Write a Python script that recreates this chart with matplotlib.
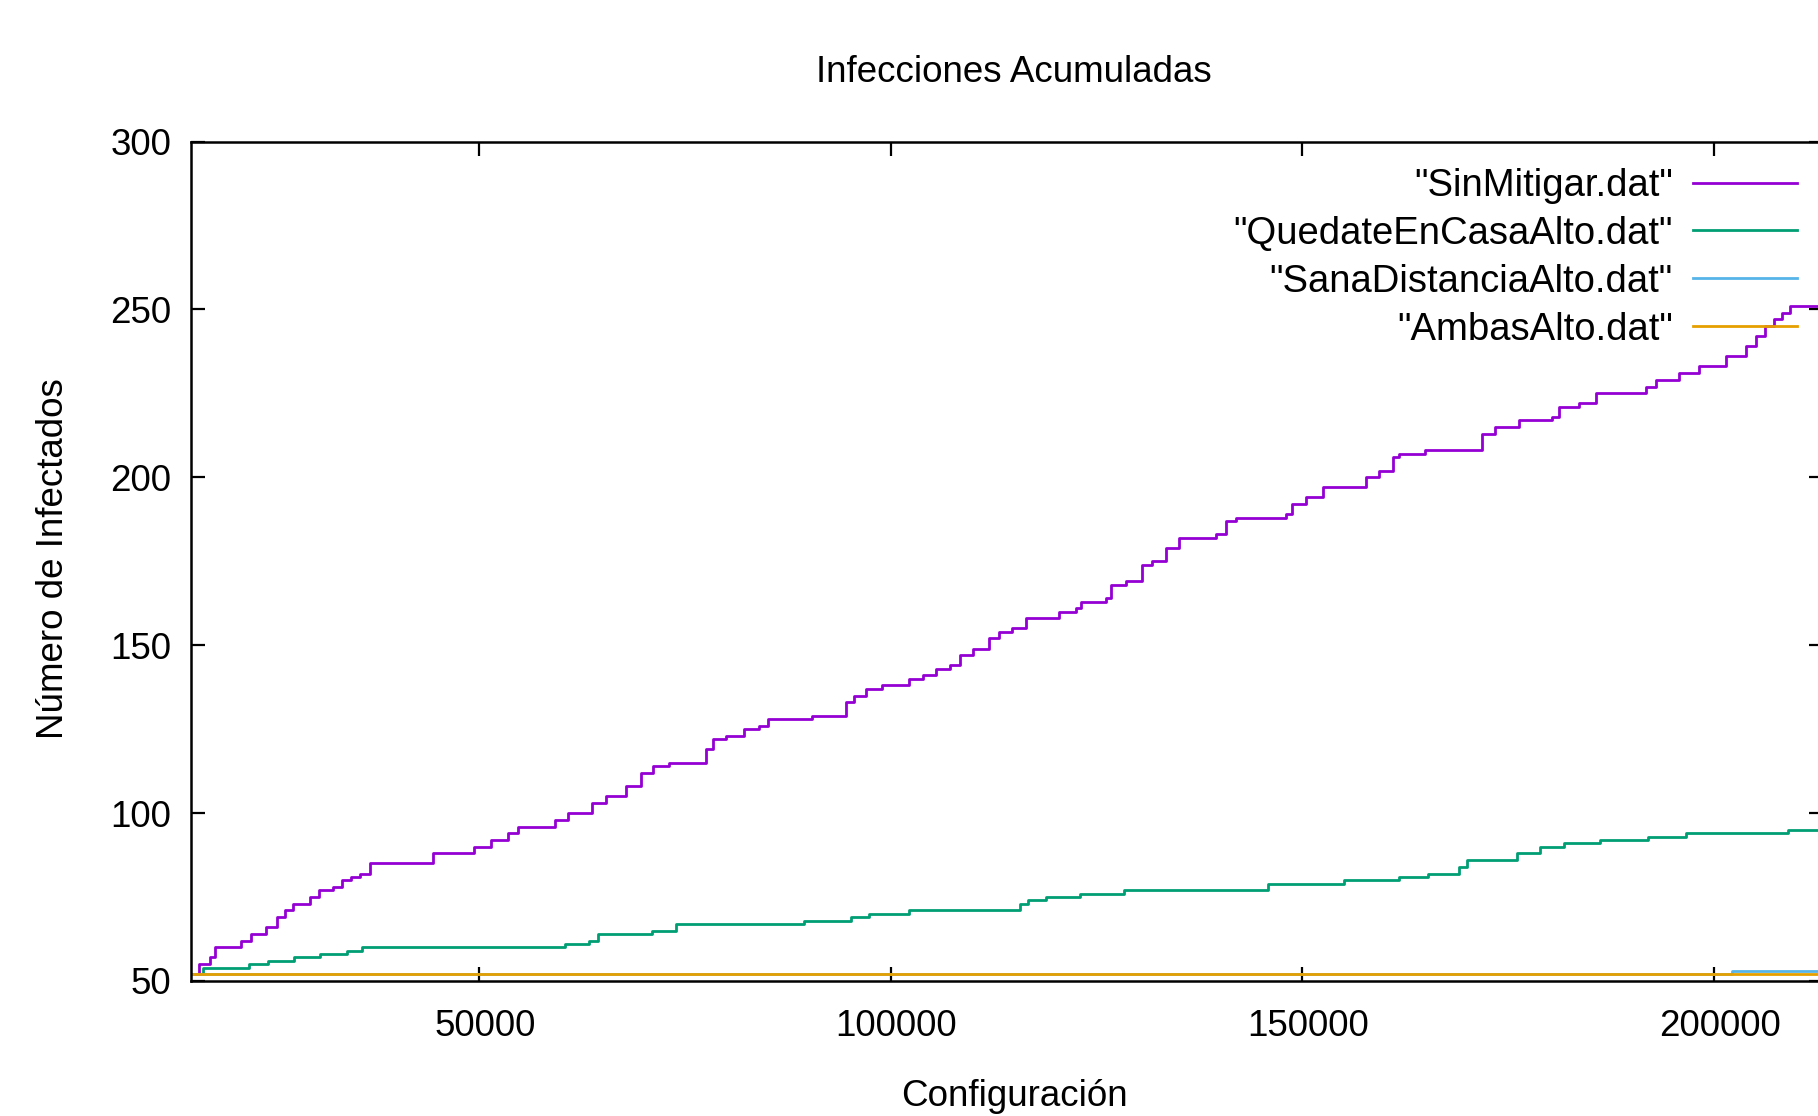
import matplotlib
matplotlib.use("Agg")
import matplotlib.pyplot as plt
import matplotlib.transforms as mtransforms

# =========================
# datos
# =========================
sin_mitigar_x = [15000, 16000, 17300, 17900, 21100, 22300, 24100, 25400, 26400, 27400,
                 29400, 30600, 32200, 33300, 34500, 35500, 36700, 44400, 49400, 51500,
                 53500, 54700, 59200, 60800, 63700, 65400, 67900, 69700, 71100, 73100,
                 77600, 78400, 80000, 82200, 84000, 85100, 90500, 94600, 95600, 97000,
                 99000, 102300, 104000, 105500, 107200, 108400, 110000, 112000, 113200, 114800,
                 116500, 120500, 122500, 123100, 126200, 126800, 128600, 130600, 131800, 133500,
                 135100, 139500, 140700, 142000, 148000, 148800, 150500, 152500, 157800, 159400,
                 161000, 161800, 165000, 171900, 173500, 176400, 180400, 181200, 183700, 185700,
                 191800, 193000, 195800, 198200, 201500, 203900, 205100, 206200, 207300, 208300,
                 209300, 213300]
sin_mitigar_y = [52, 55, 57, 60, 62, 64, 66, 69, 71, 73,
                 75, 77, 78, 80, 81, 82, 85, 88, 90, 92,
                 94, 96, 98, 100, 103, 105, 108, 112, 114, 115,
                 119, 122, 123, 125, 126, 128, 129, 133, 135, 137,
                 138, 140, 141, 143, 144, 147, 149, 152, 154, 155,
                 158, 160, 161, 163, 164, 168, 169, 174, 175, 179,
                 182, 183, 187, 188, 189, 192, 194, 197, 200, 202,
                 206, 207, 208, 213, 215, 217, 218, 221, 222, 225,
                 227, 229, 231, 233, 236, 239, 242, 245, 247, 249,
                 251, 251]

quedate_x = [15000, 16400, 22100, 24400, 27500, 30700, 33900, 35800, 60500, 63400,
             64400, 71000, 73900, 89500, 95200, 97400, 102200, 115700, 116700, 118900,
             123000, 128400, 145900, 155100, 161800, 165300, 169100, 170000, 176100, 178900,
             181800, 186200, 192000, 196700, 209100, 213300]
quedate_y = [52, 54, 55, 56, 57, 58, 59, 60, 61, 62,
             64, 65, 67, 68, 69, 70, 71, 73, 74, 75,
             76, 77, 79, 80, 81, 82, 84, 86, 88, 90,
             91, 92, 93, 94, 95, 95]

sana_x = [15000, 202300, 213300]
sana_y = [52, 53, 53]

ambas_x = [15000, 213300]
ambas_y = [52, 52]

labels = ['"SinMitigar.dat"', '"QuedateEnCasaAlto.dat"',
          '"SanaDistanciaAlto.dat"', '"AmbasAlto.dat"']
colores = ["#9400d3", "#009e73", "#56b4e9", "#e69f00"]

x_ticks = [50000, 100000, 150000, 200000]
y_ticks = [50, 100, 150, 200, 250, 300]

# =========================
# figura
# =========================
plt.rcParams['font.family'] = ['Liberation Sans', 'DejaVu Sans']
FS = 26.5

W, H = 1818, 1116
fig = plt.figure(figsize=(W / 100, H / 100), dpi=100)
# el eje derecho queda justo fuera de la imagen (como en la original)
ax_l, ax_r, ax_t, ax_b = 191, 1823, 141.5, 981
ax = fig.add_axes([ax_l / W, 1 - ax_b / H, (ax_r - ax_l) / W, (ax_b - ax_t) / H])

series = [(sin_mitigar_x, sin_mitigar_y), (quedate_x, quedate_y),
          (sana_x, sana_y), (ambas_x, ambas_y)]
for (xs, ys), lab, c in zip(series, labels, colores):
    ax.step(xs, ys, where="post", color=c, lw=2.0, label=lab)

ax.set_xlim(15000, 213300)
ax.set_ylim(50, 300)
ax.set_xticks(x_ticks)
ax.set_yticks(y_ticks)
ax.tick_params(direction="in", length=10, width=1.6, top=True, right=True,
               labelsize=FS, colors="black")
ax.tick_params(axis="y", pad=14)
ax.tick_params(axis="x", pad=20)
for s in ax.spines.values():
    s.set_linewidth(1.8)

# pequeño desplazamiento de las etiquetas x (gnuplot)
off = mtransforms.ScaledTranslation(6 / 100, 0, fig.dpi_scale_trans)
for lbl in ax.get_xticklabels():
    lbl.set_transform(lbl.get_transform() + off)

leg = ax.legend(loc="upper right", bbox_to_anchor=(1797 / W, 1 - 168 / H),
                bbox_transform=fig.transFigure, frameon=False, markerfirst=False,
                fontsize=FS + 1, borderpad=0, borderaxespad=0, handlelength=2.72,
                handletextpad=0.53, labelspacing=0.31)

fig.text(1014 / W, 1 - 72 / H, "Infecciones Acumuladas", ha="center", va="center", fontsize=FS)
fig.text(1014 / W, 1 - 1096 / H, "Configuración", ha="center", va="center", fontsize=FS)
fig.text(54 / W, 1 - 559 / H, "Número de Infectados", ha="center", va="center",
         rotation=90, fontsize=FS)

fig.savefig("out.png", dpi=100)
